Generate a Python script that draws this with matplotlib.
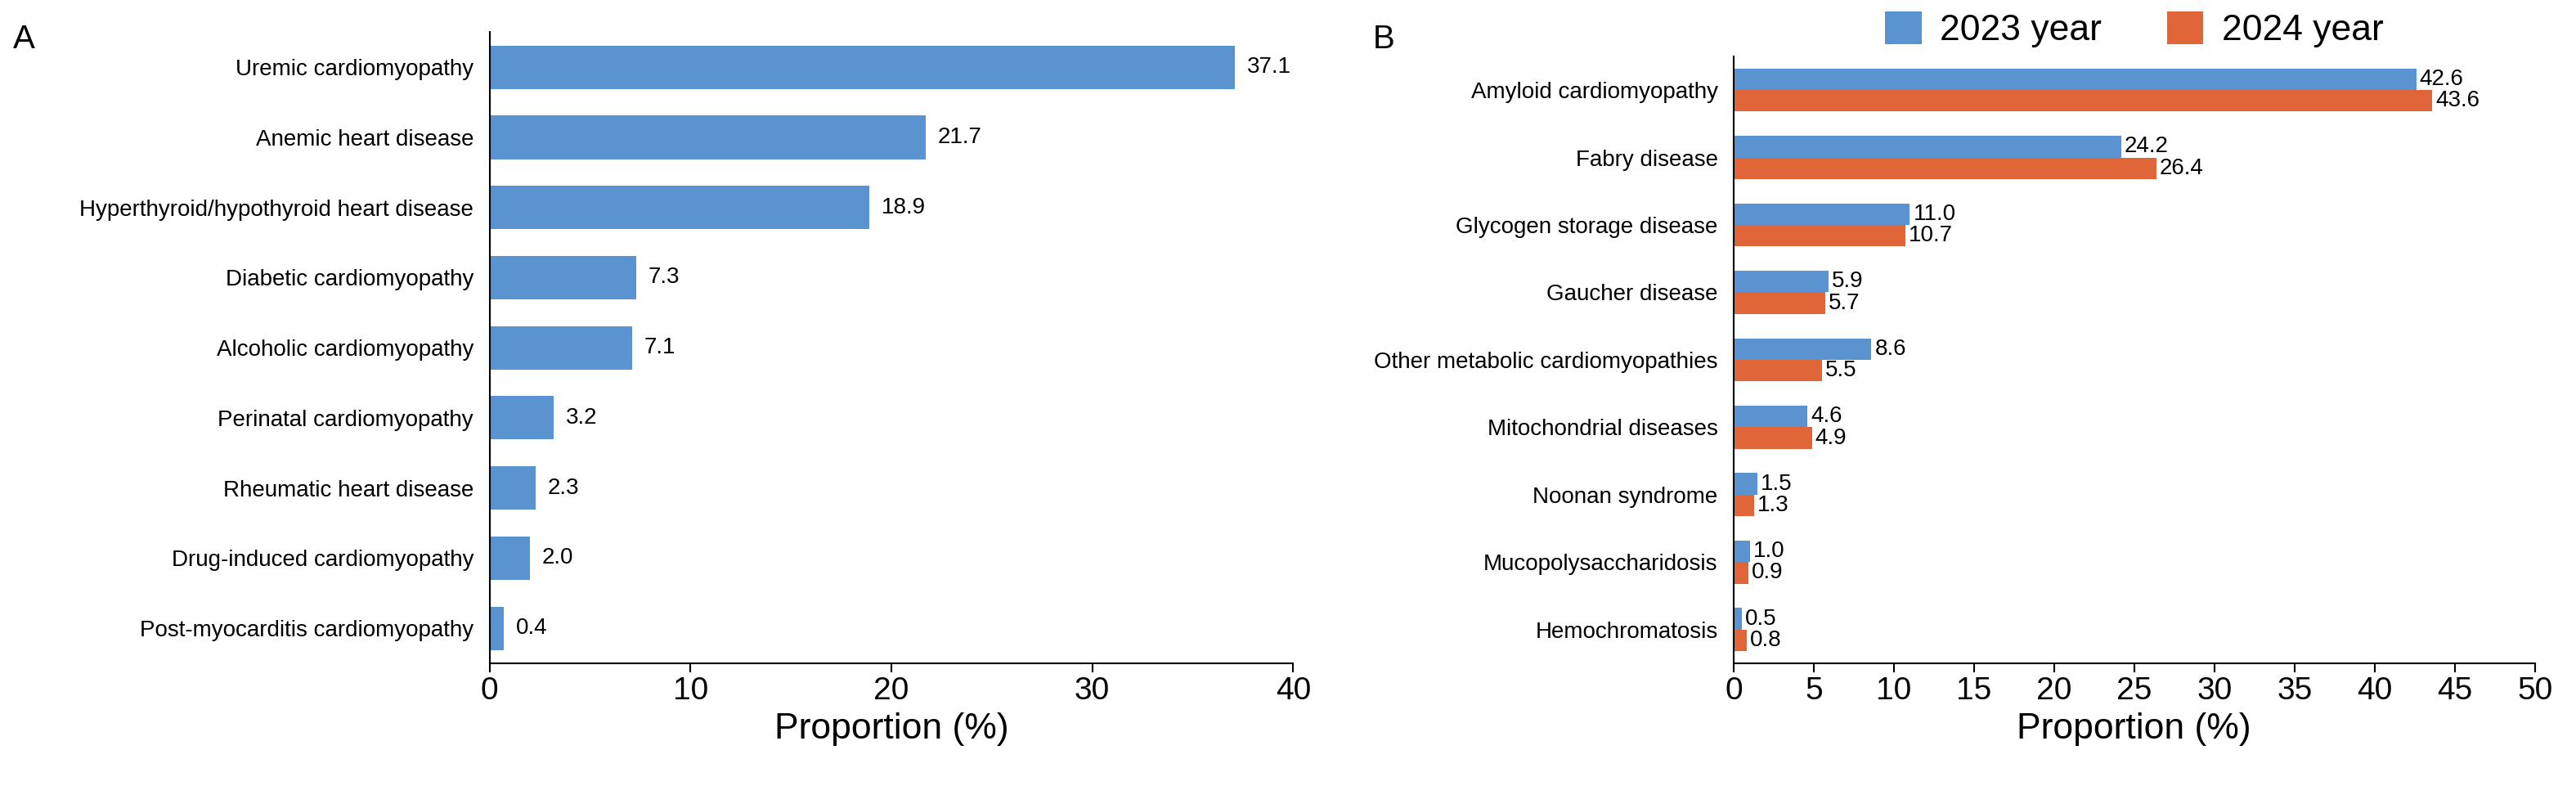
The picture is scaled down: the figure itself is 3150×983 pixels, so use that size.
import numpy as np
import matplotlib.pyplot as plt

plt.rcParams["font.family"] = ["Liberation Sans", "DejaVu Sans"]

BLUE = "#5B93D0"
ORANGE = "#E0663A"

cats_a = ["Uremic cardiomyopathy", "Anemic heart disease",
          "Hyperthyroid/hypothyroid heart disease", "Diabetic cardiomyopathy",
          "Alcoholic cardiomyopathy", "Perinatal cardiomyopathy",
          "Rheumatic heart disease", "Drug-induced cardiomyopathy",
          "Post-myocarditis cardiomyopathy"]
vals_a = [37.1, 21.7, 18.9, 7.3, 7.1, 3.2, 2.3, 2.0, 0.4]
bar_a = [37.1, 21.7, 18.9, 7.3, 7.1, 3.2, 2.3, 2.0, 0.7]

cats_b = ["Amyloid cardiomyopathy", "Fabry disease", "Glycogen storage disease",
          "Gaucher disease", "Other metabolic cardiomyopathies",
          "Mitochondrial diseases", "Noonan syndrome", "Mucopolysaccharidosis",
          "Hemochromatosis"]
vals_2023 = [42.6, 24.2, 11.0, 5.9, 8.6, 4.6, 1.5, 1.0, 0.5]
vals_2024 = [43.6, 26.4, 10.7, 5.7, 5.5, 4.9, 1.3, 0.9, 0.8]

fig = plt.figure(figsize=(31.5, 9.83), dpi=100)

# panel A
ax1 = fig.add_axes([0.190, 0.175, 0.312, 0.785])
y = np.arange(len(cats_a))
ax1.barh(y, bar_a, height=0.62, color=BLUE)
for yi, b, v in zip(y, bar_a, vals_a):
    ax1.text(b + 0.6, yi, f"{v:.1f}", va="center", ha="left", fontsize=20)
ax1.set_yticks(y)
ax1.set_yticklabels(cats_a, fontsize=20)
ax1.set_ylim(len(cats_a) - 0.5, -0.5)
ax1.set_xlim(0, 40)
ax1.set_xticks(range(0, 41, 10))
ax1.tick_params(axis="x", labelsize=28, length=8, width=1.5)
ax1.tick_params(axis="y", length=0, pad=14)
ax1.set_xlabel("Proportion (%)", fontsize=32, labelpad=6)
for s in ["top", "right"]:
    ax1.spines[s].set_visible(False)
for s in ["left", "bottom"]:
    ax1.spines[s].set_linewidth(1.5)
fig.text(0.005, 0.94, "A", fontsize=29)

# panel B
ax2 = fig.add_axes([0.673, 0.175, 0.311, 0.755])
y = np.arange(len(cats_b))
h = 0.32
ax2.barh(y - h / 2, vals_2023, height=h, color=BLUE, label="2023 year")
ax2.barh(y + h / 2, vals_2024, height=h, color=ORANGE, label="2024 year")
for yi, a, b in zip(y, vals_2023, vals_2024):
    ax2.text(a + 0.2, yi - h / 2, f"{a:.1f}", va="center", ha="left", fontsize=20)
    ax2.text(b + 0.2, yi + h / 2, f"{b:.1f}", va="center", ha="left", fontsize=20)
ax2.set_yticks(y)
ax2.set_yticklabels(cats_b, fontsize=20)
ax2.set_ylim(len(cats_b) - 0.5, -0.5)
ax2.set_xlim(0, 50)
ax2.set_xticks(range(0, 51, 5))
ax2.tick_params(axis="x", labelsize=28, length=8, width=1.5)
ax2.tick_params(axis="y", length=0, pad=14)
ax2.set_xlabel("Proportion (%)", fontsize=32, labelpad=6)
for s in ["top", "right"]:
    ax2.spines[s].set_visible(False)
for s in ["left", "bottom"]:
    ax2.spines[s].set_linewidth(1.5)
ax2.legend(loc="lower center", bbox_to_anchor=(0.5, 0.96), ncol=2, frameon=False,
           fontsize=32, handlelength=1.0, handleheight=1.0, columnspacing=1.8,
           handletextpad=0.5)
fig.text(0.533, 0.94, "B", fontsize=29)

fig.savefig("out.png", dpi=100)
